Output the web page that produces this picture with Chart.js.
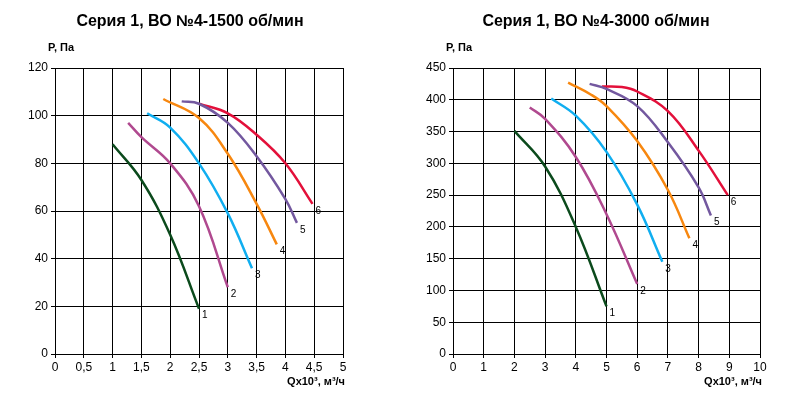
<!DOCTYPE html>
<html><head><meta charset="utf-8">
<script src="https://cdn.jsdelivr.net/npm/chart.js@4"></script>
<style>body{margin:0;background:#fff;width:800px;height:404px;position:relative;overflow:hidden}
.w{position:absolute;top:0;width:400px;height:404px}</style></head>
<body>
<div class="w" style="left:0"><canvas id="c1"></canvas></div>
<div class="w" style="left:400px"><canvas id="c2"></canvas></div>
<script>
const colors=['#0b4a1c','#b0498f','#10aef0','#f7870f','#73589f','#e3103a'];
const curveLabels=['1','2','3','4','5','6'];
const left1=[[1.0,88],[1.5,73],[2.0,50],[2.5,19]];
const left2=[[1.27,97],[1.5,91],[2.0,80],[2.5,62],[3.0,28]];
const left3=[[1.6,101],[2.0,95],[2.5,80],[3.0,59],[3.42,36]];
const left4=[[1.88,107],[2.5,99],[3.0,84],[3.5,63],[3.85,46]];
const left5=[[2.2,106],[2.5,105],[3.0,97],[3.5,83],[4.0,65],[4.2,55]];
const left6=[[2.5,105],[3.0,101],[3.5,92],[4.0,80],[4.47,63]];
const right1=[[2.0,351],[3.0,295],[4.0,200],[5.0,75]];
const right2=[[2.5,388],[3.0,370],[4.0,310],[5.0,220],[6.0,110]];
const right3=[[3.2,402],[4.0,375],[5.0,318],[6.0,235],[6.82,145]];
const right4=[[3.75,427],[4.5,408],[5.0,390],[6.0,335],[7.0,258],[7.7,182]];
const right5=[[4.45,425],[5.0,417],[6.0,390],[7.0,333],[8.0,262],[8.4,218]];
const right6=[[4.85,421],[5.5,420],[6.0,413],[7.0,382],[8.0,320],[8.95,250]];
Chart.defaults.font.family='"Liberation Sans", Arial, sans-serif';
Chart.defaults.color='#000';
function make(id,title,series,xmax,xstep,ymax,ystep,padRight,titleX){
  const labelPlugin={id:'lbl',afterDraw(ch){
    const c=ch.ctx,xs=ch.scales.x,ys=ch.scales.y;
    c.save();c.fillStyle='#000';
    c.font='bold 16px "Liberation Sans", Arial';c.textAlign='center';c.textBaseline='middle';
    c.fillText(title,titleX,22);
    c.font='bold 11px "Liberation Sans", Arial';c.textAlign='left';
    c.fillText('P, Па',ch.chartArea.left-7,48);
    c.textAlign='right';c.fillText('Qx10³, м³/ч',ch.chartArea.right+2,382);
    c.font='10px "Liberation Sans", Arial';c.textAlign='left';
    series.forEach((s,i)=>{const p=s[s.length-1];c.fillText(curveLabels[i],xs.getPixelForValue(p[0])+3,ys.getPixelForValue(p[1])+7);});
    c.restore();}};
  new Chart(document.getElementById(id),{type:'line',
    data:{datasets:series.map((s,i)=>({data:s.map(p=>({x:p[0],y:p[1]})),borderColor:colors[i],borderWidth:2.5,pointRadius:0,tension:0.4,fill:false}))},
    options:{responsive:false,animation:false,events:[],
      layout:{padding:{left:0,right:padRight,top:68,bottom:30}},
      plugins:{legend:{display:false},tooltip:{enabled:false}},
      scales:{
        x:{type:'linear',min:0,max:xmax,afterFit(a){a.height=20},border:{color:'#000'},
          grid:{color:'#000',lineWidth:1,tickLength:4},
          ticks:{stepSize:xstep,font:{size:12},padding:2,callback:v=>String(v).replace('.',',')}},
        y:{min:0,max:ymax,afterFit(a){a.width=xmax>5?53:55},border:{color:'#000'},
          grid:{color:'#000',lineWidth:1,tickLength:4},
          ticks:{stepSize:ystep,font:{size:12},padding:3}}}},
    plugins:[labelPlugin]});
}
document.getElementById('c1').width=400;document.getElementById('c1').height=404;
document.getElementById('c2').width=400;document.getElementById('c2').height=404;
make('c1','Серия 1, ВО №4-1500 об/мин',[left1,left2,left3,left4,left5,left6],5,0.5,120,20,57,190);
make('c2','Серия 1, ВО №4-3000 об/мин',[right1,right2,right3,right4,right5,right6],10,1,450,50,40,196);
</script></body></html>
